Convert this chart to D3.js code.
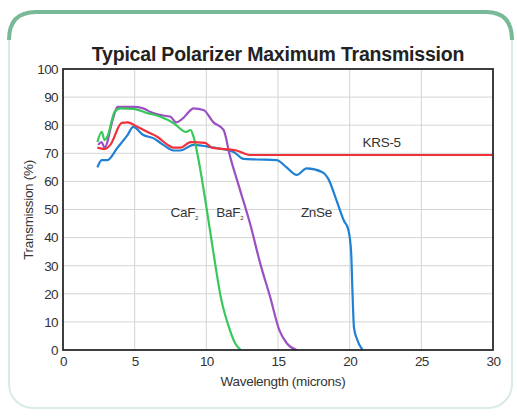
<!DOCTYPE html>
<html><head><meta charset="utf-8">
<script src="https://cdn.jsdelivr.net/npm/d3@7"></script>
<style>body{margin:0;background:#fff}svg{display:block}text{font-family:"Liberation Sans",Arial,Helvetica,sans-serif}</style>
</head><body>
<script>
const title = "Typical Polarizer Maximum Transmission";
const xTicks = [0,5,10,15,20,25,30];
const yTicks = [0,10,20,30,40,50,60,70,80,90,100];
const xLabel = "Wavelength (microns)";
const yLabel = "Transmission (%)";

const znseX = [2.4,2.7,3.1,3.8,4.5,4.9,5.6,6.3,7.0,7.7,8.2,9.1,10.5,11.9,12.6,13.5,14.9,15.6,16.3,17.0,18.1,18.5,19.1,19.6,19.9,20.1,20.2,20.3,20.5,20.9];
const znseY = [65,67.6,67.6,72,76.5,79.4,76.5,75.4,73,71,71,73,72,70.5,68,67.8,67.6,65,62.3,64.6,63.3,61,53,46,43,35,20,8,4,0];
const krsX = [2.4,2.9,3.3,4.1,4.5,5.2,5.9,6.6,7.3,7.7,8.2,8.9,9.9,10.4,12.1,13.0,30];
const krsY = [72,71.5,73,80.8,81,79.4,77.6,75.8,73,72,72,74,73.7,72,71,69.4,69.4];
const cafX = [2.4,2.7,2.9,3.1,3.6,4.0,4.9,5.9,6.8,7.7,8.6,8.9,9.1,9.55,10.0,10.5,11.0,11.65,12.0,12.4];
const cafY = [74,77.6,74.7,76,84.7,86,85.8,84.3,83,80.8,77.6,78.3,76,65,51,34.5,19,7,2.5,0];
const bafX = [2.45,2.7,2.9,3.5,3.8,4.9,5.6,6.1,6.8,7.5,7.9,8.4,8.7,9.1,9.8,10.5,11.2,11.65,12.35,13.05,13.75,14.45,15.1,15.6,16.3];
const bafY = [73,74,72,82.6,86.5,86.5,86,84.7,83.6,83,81,82.6,84.3,86,85.4,81,78.3,69,57,45,31,18.9,7,2.5,0];

const W = 517, H = 418;
const svg = d3.select("body").append("svg").attr("width", W).attr("height", H);

// frame
svg.append("rect").attr("x",9).attr("y",12).attr("width",503).attr("height",396).attr("rx",24)
  .attr("fill","none").attr("stroke","#d8ece1").attr("stroke-width",2);
svg.append("path").attr("d","M9,40 Q9,12 36,12 L486,12 Q512,12 512,40")
  .attr("fill","none").attr("stroke","#78b998").attr("stroke-width",4);

const x = d3.scaleLinear().domain([0,30]).range([63,493]);
const y = d3.scaleLinear().domain([0,100]).range([350,69]);

// grid
const g = svg.append("g");
g.selectAll(".vg").data(xTicks.slice(1,-1)).join("line")
  .attr("x1",d=>x(d)).attr("x2",d=>x(d)).attr("y1",y(0)).attr("y2",y(100))
  .attr("stroke","#d4d4d4").attr("stroke-width",1);
g.selectAll(".hg").data(yTicks.slice(1,-1)).join("line")
  .attr("y1",d=>y(d)).attr("y2",d=>y(d)).attr("x1",x(0)).attr("x2",x(30))
  .attr("stroke","#d4d4d4").attr("stroke-width",1);

const xa = svg.append("g").attr("transform",`translate(0,${y(0)})`)
  .call(d3.axisBottom(x).tickValues(xTicks).tickSize(0).tickPadding(6));
const ya = svg.append("g").attr("transform",`translate(${x(0)},0)`)
  .call(d3.axisLeft(y).tickValues(yTicks).tickSize(0).tickPadding(5));
[xa,ya].forEach(a=>{a.select(".domain").remove();a.selectAll("text").attr("font-size",13.5).attr("fill","#333").attr("font-family","Liberation Sans, Arial, sans-serif").attr("letter-spacing","-0.6");});

const series = [
  [znseX, znseY, "#1f80d4"],
  [bafX, bafY, "#9b4fc2"],
  [cafX, cafY, "#37c85a"],
  [krsX, krsY, "#f0313a"]
];
const line = d3.line().x(d=>x(d[0])).y(d=>y(d[1])).curve(d3.curveMonotoneX);
series.forEach(([xs,ys,c])=>{
  svg.append("path").datum(xs.map((v,i)=>[v,ys[i]])).attr("d",line)
    .attr("fill","none").attr("stroke",c).attr("stroke-width",2.2).attr("stroke-linejoin","round");
});

svg.append("rect").attr("x",x(0)).attr("y",y(100)).attr("width",x(30)-x(0)).attr("height",y(0)-y(100))
  .attr("fill","none").attr("stroke","#2a2a2a").attr("stroke-width",1.8);

svg.append("text").attr("x",278).attr("y",61).attr("text-anchor","middle").attr("font-size",19.5)
  .attr("font-weight","bold").attr("fill","#222").attr("letter-spacing","-0.2").text(title);
svg.append("text").attr("x",283).attr("y",386).attr("text-anchor","middle").attr("font-size",13.5).attr("fill","#333").attr("letter-spacing","-0.3").text(xLabel);
svg.append("text").attr("transform","translate(33,210) rotate(-90)").attr("text-anchor","middle").attr("font-size",13.5).attr("fill","#333").attr("letter-spacing","-0.3").text(yLabel);

function lab(t, sub, px, py){
  const tx = svg.append("text").attr("x",px).attr("y",py).attr("font-size",13.5).attr("fill","#333").attr("letter-spacing","-0.3").text(t);
  if(sub) tx.append("tspan").attr("font-size",6).attr("dy",3).text(sub);
}
lab("KRS-5", null, x(20.9), y(72.4));
lab("CaF", "2", x(7.5), y(47.5));
lab("BaF", "2", x(10.7), y(47.5));
lab("ZnSe", null, x(16.6), y(47.5));
</script>
</body></html>
